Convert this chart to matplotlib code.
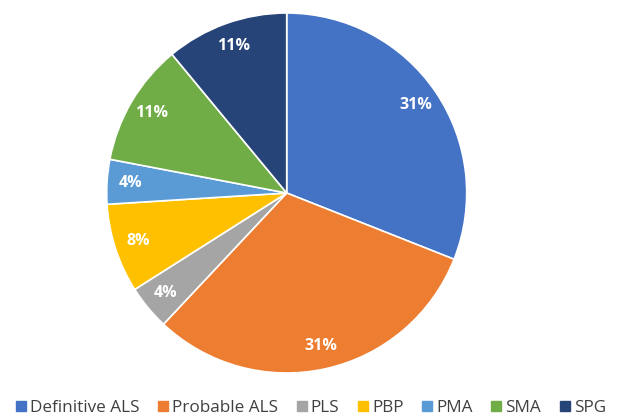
import matplotlib.pyplot as plt
from matplotlib.lines import Line2D

# share of patients per diagnosis (%)
categories = ["Definitive ALS", "Probable ALS", "PLS", "PBP", "PMA", "SMA", "SPG"]
shares = [31, 31, 4, 8, 4, 11, 11]
colors = ["#4472C4", "#ED7D31", "#A5A5A5", "#FFC000", "#5B9BD5", "#70AD47", "#264478"]

plt.rcParams["font.family"] = ["Open Sans", "DejaVu Sans"]

fig = plt.figure(figsize=(6.17, 4.17), dpi=100)
ax = fig.add_axes([106.7 / 617, 44 / 417, 360 / 617, 360 / 417])

wedges, texts, autotexts = ax.pie(
    shares,
    colors=colors,
    startangle=90,
    counterclock=False,
    autopct="%d%%",
    pctdistance=0.87,
    wedgeprops=dict(edgecolor="white", linewidth=1.2),
    textprops=dict(color="white", fontsize=11.5, fontweight="bold"),
)
ax.set_xlim(-1, 1)
ax.set_ylim(-1, 1)
ax.set_aspect("equal")
ax.axis("off")

handles = [Line2D([], [], marker="s", linestyle="none", markersize=7.2,
                  markerfacecolor=c, markeredgecolor=c) for c in colors]
fig.legend(handles, categories, loc="center", bbox_to_anchor=(311 / 617, 1 - 407.5 / 417),
           ncol=7, frameon=False, fontsize=12.3, handlelength=0.58, handletextpad=0.23,
           columnspacing=1.1, borderpad=0, borderaxespad=0, labelcolor="#404040")

fig.savefig("out.png", dpi=100)
